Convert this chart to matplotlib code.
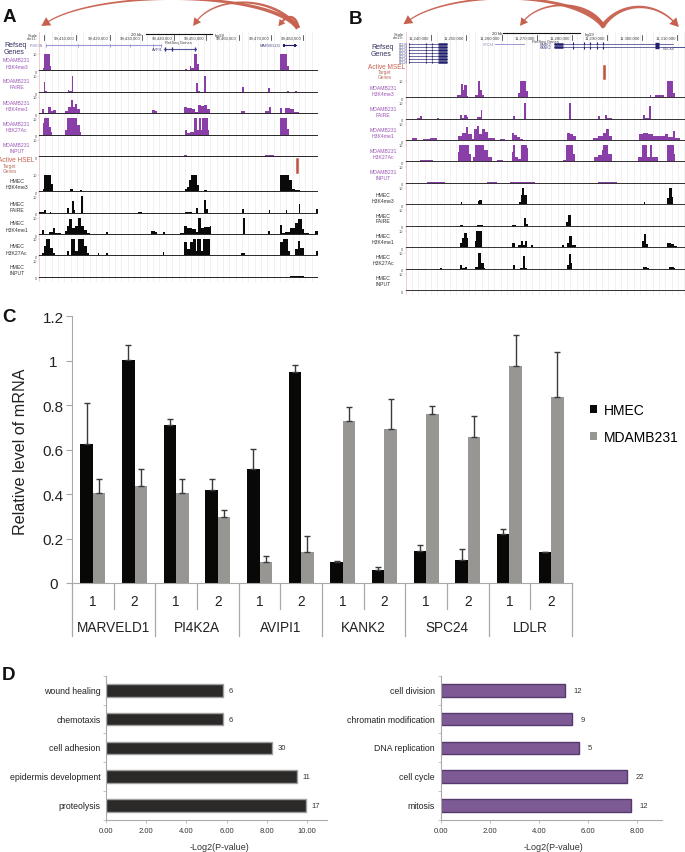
import numpy as np
import matplotlib
matplotlib.use("Agg")
from matplotlib import pyplot as plt
from matplotlib.patches import Polygon

plt.rcParams['font.family'] = ['Liberation Sans', 'DejaVu Sans']

W, H = 685, 853
PURPLE = "#8a3fa8"
BLACK = "#0a0a0a"
RED = "#c8604e"

# ---- panel C data
genes = ["MARVELD1", "PI4K2A", "AVIPI1", "KANK2", "SPC24", "LDLR"]
probes = ["1", "2"] * 6
hmec_mrna = [0.625, 1.005, 0.71, 0.42, 0.515, 0.95, 0.095, 0.06, 0.145, 0.105, 0.22, 0.14]
hmec_err = [0.185, 0.065, 0.03, 0.05, 0.09, 0.03, 0.005, 0.01, 0.025, 0.05, 0.025, 0.0]
mdamb_mrna = [0.405, 0.435, 0.405, 0.295, 0.095, 0.14, 0.73, 0.695, 0.76, 0.655, 0.975, 0.835]
mdamb_err = [0.065, 0.08, 0.065, 0.035, 0.025, 0.07, 0.06, 0.135, 0.035, 0.095, 0.14, 0.205]

# ---- panel D data
terms_left = ["proteolysis", "epidermis development", "cell adhesion", "chemotaxis", "wound healing"]
pval_left = [9.95, 9.5, 8.25, 5.8, 5.8]
count_left = [17, 11, 30, 6, 6]
terms_right = ["mitosis", "cell cycle", "DNA replication", "chromatin modification", "cell division"]
pval_right = [7.75, 7.6, 5.65, 5.35, 5.05]
count_right = [12, 22, 5, 9, 12]

# ---- panel A tracks: (position, height) steps, height scale 0-10
a_m_k4me3 = [(128,2),(132,10),(149,3),(154,0),(165,1),(170,0),(555,1.5),(560,1),(568,3),(573,2),(580,10),(591,4),(596,0),(690,.5),(695,0),(840,10),(860,3),(865,1),(878,0),(935,.4),(950,0)]
a_m_faire = [(131,6.5),(136,1),(140,0),(150,.4),(175,.5),(190,0),(203,2),(208,1),(216,10),(220,.5),(225,0),(300,.4),(340,.3),(400,.4),(440,0),(588,6),(593,1),(600,.5),(612,10),(616,.5),(620,0),(726,3.5),(730,0),(804,3),(808,0),(860,1),(865,0),(885,1),(889,0)]
a_m_me1 = [(127,3),(133,1),(145,4),(153,2),(160,2.5),(168,.5),(195,2),(205,4),(212,8),(218,4),(226,6),(232,3),(240,1),(245,0),(285,.7),(290,0),(455,2.5),(465,2),(472,1),(480,0),(540,1),(550,4),(560,3.5),(575,3),(585,1.5),(592,5.5),(602,5),(612,5.5),(620,3),(628,0),(722,2),(733,0),(795,2),(805,4),(812,1),(820,0),(838,3.5),(846,1),(855,3.5),(870,3),(880,1.5),(895,.7),(905,0),(930,.4),(950,0)]
a_m_k27 = [(129,7),(132,10),(147,5),(152,2),(157,0),(165,.5),(170,0),(195,3),(200,10),(232,6),(240,2),(243,0),(455,.6),(470,0),(490,.5),(495,0),(553,3),(561,1.5),(570,2),(580,10),(590,3),(595,10),(601,3),(606,10),(622,3),(627,0),(730,.3),(740,0),(840,10),(860,4),(866,0),(885,.4),(895,0)]
a_m_input = [(117,.3),(130,.8),(140,.3),(165,.7),(180,.3),(215,.8),(240,.4),(270,.6),(300,.3),(345,.5),(390,.7),(420,.3),(465,.8),(500,.4),(550,1),(560,.5),(590,.8),(640,.4),(700,.6),(760,.7),(795,1),(820,.4),(860,.7),(900,.8),(940,.4)]
a_h_k4me3 = [(128,2),(133,10),(153,5),(160,1),(168,.5),(172,0),(200,.7),(210,2),(220,.7),(232,1),(238,0),(240,1.5),(245,0),(440,.3),(470,0),(553,2),(560,3),(567,7),(573,10),(590,4),(597,1),(602,0),(612,1.5),(620,0),(725,1),(732,0),(840,10),(865,7),(875,2),(885,1.5),(900,1),(906,0)]
a_h_faire = [(118,1),(130,.8),(133,2),(137,0),(150,1),(154,0),(200,3),(206,.5),(215,7.5),(222,2),(226,0),(243,10),(248,.5),(252,0),(325,.5),(340,0),(415,.8),(425,0),(555,1),(575,0),(588,3.5),(592,0),(612,8),(618,2.5),(622,0),(655,.5),(660,0),(726,2.5),(731,0),(805,2),(809,0),(857,2),(860,0),(895,5.5),(899,0),(948,2.5),(954,0)]
a_h_me1 = [(126,3),(132,.5),(146,1.5),(158,4),(165,1),(178,1),(182,0),(195,2.5),(200,5),(208,9),(215,4),(225,5),(233,9.5),(243,5),(252,3),(262,1),(270,0),(319,2),(323,0),(452,2.5),(465,2),(472,0),(488,1.5),(495,0),(538,1),(550,5),(560,4),(575,3.5),(588,2),(592,10),(602,4),(612,4.5),(628,5),(632,0),(728,10),(734,0),(802,2.5),(810,0),(838,6),(844,1),(855,2),(870,4),(885,7),(892,9),(905,3.5),(910,1),(925,.8),(945,2.5),(954,0)]
a_h_k27 = [(125,2),(132,6),(137,10),(150,5),(158,2),(165,.5),(190,.5),(200,3),(206,.5),(212,10),(225,3),(233,10),(252,6),(260,2),(268,0),(293,2),(297,0),(318,2),(324,0),(345,.4),(365,.8),(370,0),(458,1),(468,0),(488,2.5),(493,0),(520,.6),(525,0),(545,.8),(550,8),(560,4),(570,8),(577,10),(588,3),(591,10),(601,3),(607,10),(628,0),(722,2),(735,0),(838,8),(848,10),(862,3),(868,0),(885,4),(892,9),(898,5),(910,0),(930,.4),(945,1),(948,3),(954,0)]
a_h_input = [(117,.3),(150,.5),(175,.3),(235,.6),(280,.3),(340,.5),(385,.6),(420,.3),(500,.4),(570,.5),(640,.4),(700,.3),(790,.4),(870,.7),(910,.4),(950,.3)]

# ---- panel B tracks
b_m_k4me3 = [(225,.5),(245,.6),(260,0),(290,1),(302,0),(352,2),(362,8),(369,5),(373,7.5),(380,1.5),(385,0),(405,2),(413,10),(421,5),(425,2),(433,0),(535,3),(540,10),(557,4),(563,0),(620,.5),(625,0),(740,.8),(750,0),(890,.5),(895,0),(930,2),(933,.5),(945,2),(972,0),(982,10),(1000,3),(1004,0),(1020,.4),(1035,0)]
b_m_faire = [(230,1),(240,2.5),(245,0),(292,1.2),(296,0),(320,.7),(325,0),(345,.7),(352,0),(360,3),(365,1),(372,3),(380,1.5),(385,0),(412,1.5),(422,6),(427,0),(518,2.5),(524,0),(552,10),(557,0),(640,.5),(650,0),(687,10),(692,0),(775,2.5),(779,0),(795,3),(800,1),(815,.6),(825,0),(908,3),(915,1),(928,8),(933,0),(980,.4),(990,0)]
b_m_me1 = [(197,1),(215,2),(230,1),(250,1.5),(270,2),(290,1),(345,1),(355,3),(365,5),(378,8),(385,4),(395,1.5),(403,7),(410,8.5),(417,4),(425,7),(435,5.5),(445,2),(465,.5),(480,1.5),(495,.7),(515,5),(522,3.5),(530,2.5),(540,1.5),(550,.5),(680,5),(690,4),(700,3),(708,1),(720,.5),(760,2),(775,3),(790,5),(797,7),(807,3),(815,1),(830,.4),(898,4),(910,5),(925,4),(940,3),(960,3),(975,4),(985,2.5),(1000,6),(1005,2),(1020,1),(1035,.5)]
b_m_k27 = [(197,.5),(215,1),(240,1.2),(262,1.5),(280,1),(300,.7),(345,1),(355,6),(358,10),(388,5),(392,1),(400,3),(404,10),(432,7),(445,3),(455,1),(470,1.5),(490,1),(505,.5),(515,6),(520,10),(525,3),(535,2),(542,10),(560,8),(564,0),(650,.8),(670,1.5),(678,10),(698,5),(705,1),(730,.5),(755,.5),(763,3),(775,4),(785,7),(790,10),(805,5),(815,1),(830,.4),(895,3),(905,10),(920,3),(930,10),(937,3),(955,1),(970,1),(982,10),(1002,5),(1006,1),(1035,.7)]
b_m_input = [(197,.3),(210,.8),(240,.5),(262,.9),(295,1.2),(315,.5),(350,.7),(370,.5),(410,.8),(440,1),(470,.6),(510,.9),(550,1),(585,.5),(640,.4),(680,.7),(740,.8),(775,.9),(830,.5),(880,.6),(920,.8),(960,.6),(1000,.8),(1030,.5)]
b_h_k4me3 = [(290,.8),(305,0),(362,2),(367,1),(375,1),(380,0),(405,.8),(413,2.5),(418,3),(425,.7),(430,0),(465,.3),(483,0),(518,.6),(525,0),(537,2),(543,6),(546,10),(553,6),(560,1),(565,0),(650,.3),(655,0),(772,.8),(775,0),(840,.4),(860,0),(912,2),(916,0),(930,.4),(945,0),(982,4),(987,10),(996,5),(1000,1),(1005,0)]
b_h_faire = [(232,.4),(245,0),(345,.3),(360,1),(368,0),(412,1),(428,0),(515,1),(527,0),(552,5),(557,1.5),(563,0),(640,.3),(645,0),(678,3),(685,7),(692,0),(825,.4),(865,0),(908,.6),(915,0),(935,.3),(940,0)]
b_h_me1 = [(225,.3),(238,1),(248,0),(258,1),(280,.8),(290,1),(305,0),(360,3),(365,6),(372,9),(380,6),(385,0),(404,4),(408,10),(427,0),(445,.5),(450,0),(505,.5),(516,3),(525,0),(533,2),(543,4),(548,2),(555,4),(561,0),(572,2),(580,0),(600,.5),(605,0),(665,2),(672,1),(680,3),(688,7),(695,2),(700,2),(708,0),(905,4),(912,8),(918,2.5),(925,0),(930,1),(935,0),(945,.6),(950,0),(965,.5),(982,3),(992,2.5),(1002,1.5),(1010,0)]
b_h_k27 = [(212,.4),(235,.6),(240,0),(252,.8),(262,0),(285,.8),(300,1),(305,0),(360,3),(365,1),(375,2),(381,0),(405,1.5),(415,10),(423,4),(431,1),(435,0),(518,3),(524,0),(540,1),(550,8),(555,1),(560,0),(645,.4),(665,.5),(672,0),(680,3),(686,9),(692,4),(697,0),(728,.7),(731,0),(910,1.5),(920,1),(928,.8),(940,0),(988,2),(1003,1),(1005,0)]
b_h_input = [(197,.2),(240,.3),(300,.4),(360,.3),(440,.8),(450,.3),(505,.7),(520,.9),(540,1),(560,.5),(650,.4),(720,.3),(810,.6),(870,.5),(912,.9),(925,.4),(1000,.3)]

a_tick_pos = [229, 329, 425, 522, 617, 715, 812, 909]
a_tick_lab = ["99,410,000", "99,420,000", "99,430,000", "99,440,000", "99,450,000", "99,460,000", "99,470,000", "99,480,000"]
b_tick_pos = [273, 377, 485, 590, 695, 800, 906, 1012]
b_tick_lab = ["11,240,000", "11,250,000", "11,260,000", "11,270,000", "11,280,000", "11,290,000", "11,300,000", "11,310,000"]


fig = plt.figure(figsize=(W / 100, H / 100), dpi=100)


def px_axes(left, top, right, bottom):
    return fig.add_axes([left / W, 1 - bottom / H, (right - left) / W, (bottom - top) / H])


# whole page in pixels, for the labels and the arrows
page = px_axes(0, 0, W, H)
page.set_xlim(0, W)
page.set_ylim(H, 0)
page.axis("off")
page.set_zorder(5)


def tapered_arrow(p0, c0, c1, p1, w0, w1, head):
    t = np.linspace(0, 1, 60)[:, None]
    p0, c0, c1, p1 = [np.array(p, float) for p in (p0, c0, c1, p1)]
    pts = (1-t)**3 * p0 + 3*(1-t)**2*t * c0 + 3*(1-t)*t**2 * c1 + t**3 * p1
    d = np.gradient(pts, axis=0)
    n = np.column_stack([-d[:, 1], d[:, 0]]) / np.linalg.norm(d, axis=1)[:, None]
    w = (w0 + (w1 - w0) * t**0.5) / 2
    page.add_patch(Polygon(np.vstack([pts + n*w, (pts - n*w)[::-1]]), fc=RED, ec="none", alpha=0.95))
    u = d[-1] / np.linalg.norm(d[-1])
    v = np.array([-u[1], u[0]])
    page.add_patch(Polygon([p1 + u*head*0.7, p1 - u*head*0.4 + v*head*0.6, p1 - u*head*0.4 - v*head*0.6], fc=RED, ec="none"))


tapered_arrow((298, 29), (268, -9), (95, -9), (46, 24), 5, 1.2, 8)
tapered_arrow((298, 29), (275, -4), (215, -4), (196, 23), 4, 1.2, 7)
tapered_arrow((298, 29), (296, 16), (288, 15), (281, 24), 4, 2, 6)
tapered_arrow((604, 28), (575, -9), (450, -9), (408, 22), 5, 1.2, 8)
tapered_arrow((604, 28), (590, 0), (540, 0), (523, 23), 4, 1.2, 7)
tapered_arrow((602, 28), (620, 2), (655, 2), (675, 24), 5, 1.5, 8)


def draw_panel(left, right, xmin, xmax, bottom, tick_pos, tick_lab):
    ax = px_axes(left, 33, right, bottom)
    ax.set_xlim(xmin, xmax)
    ax.set_ylim(bottom, 33)
    ax.axis("off")
    for x in np.arange(xmin, xmax, 19):
        ax.axvline(x, color="#ececec", lw=0.5)
    ax.axvline(xmin, color="#f3c9c9", lw=0.6)
    for x, s in zip(tick_pos, tick_lab):
        ax.plot([x, x], [36, 41], color="#222222", lw=0.5)
        ax.text(x - 5, 39, s, fontsize=3.1, ha="right", va="center", color="#444444")
    return ax


def draw_track(left, right, xmin, xmax, base, steps, color, base_color):
    ax = px_axes(left, base - 17.5, right, base)
    ax.patch.set_alpha(0)
    ax.set_xlim(xmin, xmax)
    ax.set_ylim(0, 10)
    pos = [xmin] + [s[0] for s in steps] + [xmax]
    val = [0] + [s[1] for s in steps] + [steps[-1][1]]
    ax.fill_between(pos, val, 0, step="post", color=color, lw=0)
    ax.axhline(0, color=base_color, lw=1.4)
    for side in ax.spines.values():
        side.set_visible(False)
    ax.set_xticks([])
    ax.set_yticks([0, 10])
    ax.set_yticklabels(["0", "10"], fontsize=2.8, color="#555555")
    ax.tick_params(axis="y", length=1, width=0.3, pad=0.6, color="#999999")


def two_lines(x, y1, y2, s1, s2, color, size=3.7):
    page.text(x, y1, s1, ha="center", va="center", fontsize=size, color=color)
    page.text(x, y2, s2, ha="center", va="center", fontsize=size, color=color)


# ---- panel A
a_ax = draw_panel(39, 318, 117, 953, 283, a_tick_pos, a_tick_lab)
a_ax.plot([131, 131], [36, 41], color="#222222", lw=0.5)
a_ax.plot([438, 634], [35, 35], color="#111111", lw=0.8)
a_ax.text(425, 35, "20 kb", fontsize=3.2, ha="right", va="center", color="#333333")
a_ax.text(645, 36, "hg19", fontsize=3.2, ha="left", va="center", color="#333333")
a_ax.text(535, 43, "RefSeq Genes", fontsize=3, ha="center", va="center", color="#444444")
a_ax.plot([137, 483], [46, 46], color="#9a9ad0", lw=0.8)
a_ax.plot([492, 588], [49.7, 49.7], color="#55559a", lw=0.8)
a_ax.plot([847, 887], [46, 46], color="#20206e", lw=0.8)
a_ax.vlines([137, 235, 330, 390, 458, 483], 44.5, 47.5, color="#9a9ad0", lw=0.7)
a_ax.vlines([495, 515, 583], 48, 51.5, color="#33338a", lw=1)
a_ax.vlines([850, 884], 44.5, 47.5, color="#20206e", lw=1.4)
a_ax.text(128, 46, "PI4K2A", fontsize=2.8, ha="right", va="center", color="#8888bb")
a_ax.text(488, 49.7, "AVPI1", fontsize=2.8, ha="right", va="center", color="#444488")
a_ax.text(840, 46, "MARVELD1", fontsize=2.8, ha="right", va="center", color="#444488")
a_ax.plot([891, 891], [160, 172.7], color="#c0503c", lw=1.8)

a_tracks = [(72.3, a_m_k4me3, PURPLE), (94, a_m_faire, PURPLE), (115.3, a_m_me1, PURPLE),
            (136.7, a_m_k27, PURPLE), (158, a_m_input, PURPLE), (193.3, a_h_k4me3, BLACK),
            (214.7, a_h_faire, BLACK), (236, a_h_me1, BLACK), (257.3, a_h_k27, BLACK), (278.7, a_h_input, BLACK)]
for base, steps, color in a_tracks:
    draw_track(39, 318, 117, 953, base, steps, color, "#2a2a2a")

a_lines = [(60.7, 67), (81.7, 87.7), (103, 109.3), (124, 130), (145, 151),
           (181.7, 187.7), (204, 210.3), (223.7, 230), (246.7, 253), (267.7, 273.7)]
marks = ["H3K4me3", "FAIRE", "H3K4me1", "H3K27Ac", "INPUT"]
for i, (y1, y2) in enumerate(a_lines):
    if i < 5:
        two_lines(16.7, y1, y2, "MDAMB231", marks[i], "#9b55b5")
    else:
        two_lines(16.7, y1, y2, "HMEC", marks[i - 5], "#333333")
page.text(4, 45, "Refseq", fontsize=5, color="#33335f", va="center")
page.text(4, 52, "Genes", fontsize=5, color="#33335f", va="center")
page.text(16.5, 160.7, "Active HSEL", fontsize=4.7, color=RED, ha="center", va="center")
two_lines(9.5, 166, 171, "Target", "Genes", "#b8705f", 3.4)
page.text(38, 36, "Scale", fontsize=3, ha="right", va="center", color="#444444")
page.text(38, 39, "chr11:", fontsize=2.8, ha="right", va="center", color="#444444")

# ---- panel B
b_ax = draw_panel(405.7, 685, 197, 1035, 296, b_tick_pos, b_tick_lab)
b_ax.plot([490, 720], [34, 34], color="#111111", lw=0.8)
b_ax.text(486, 34, "20 kb", fontsize=3.2, ha="right", va="center", color="#333333")
b_ax.text(733, 35, "hg19", fontsize=3.2, ha="left", va="center", color="#333333")
b_ax.text(617, 42, "RefSeq Genes", fontsize=3, ha="center", va="center", color="#444444")
for y in [44.7, 47.7, 50.7, 54, 57, 60, 63]:
    b_ax.plot([208, 320], [y, y], color="#33337f", lw=0.5)
    b_ax.vlines([208, 258, 275], y - 1.2, y + 1.2, color="#20206e", lw=0.8)
    b_ax.plot([295, 320], [y, y], color="#20206e", lw=1.8, solid_capstyle="butt")
    b_ax.text(190, y, "LDLR", fontsize=2.6, ha="center", va="center", color="#444488")
b_ax.plot([465, 553], [44.7, 44.7], color="#9a9ad0", lw=0.7)
b_ax.text(445, 44.7, "SPC24", fontsize=2.6, ha="center", va="center", color="#8888bb")
for y in [44.7, 48]:
    b_ax.plot([642, 1000], [y, y], color="#33337f", lw=0.5)
    b_ax.vlines([700, 733, 750, 770, 790], y - 1.5, y + 1.5, color="#20206e", lw=0.8)
    b_ax.plot([642, 668], [y, y], color="#20206e", lw=1.8, solid_capstyle="butt")
    b_ax.plot([945, 958], [y, y], color="#20206e", lw=2.4, solid_capstyle="butt")
    b_ax.text(617, y, "KANK2", fontsize=2.6, ha="center", va="center", color="#444488")
b_ax.plot([1000, 1035], [48, 48], color="#33337f", lw=0.6)
b_ax.text(985, 48.5, "DOCK6", fontsize=2.6, ha="center", va="center", color="#444488")
b_ax.plot([791, 791], [66.7, 79], color="#c0503c", lw=1.8)

b_tracks = [(99.3, b_m_k4me3, PURPLE), (121, b_m_faire, PURPLE), (142.3, b_m_me1, PURPLE),
            (163.3, b_m_k27, PURPLE), (185, b_m_input, PURPLE), (206.3, b_h_k4me3, BLACK),
            (228, b_h_faire, BLACK), (249.3, b_h_me1, BLACK), (271, b_h_k27, BLACK), (292.3, b_h_input, BLACK)]
for base, steps, color in b_tracks:
    draw_track(405.7, 685, 197, 1035, base, steps, color, "#333333")

b_lines = [(88.3, 94.7), (109, 115), (130, 136.7), (151, 157.3), (172.3, 178.3),
           (195, 201.3), (216, 221.7), (236, 242), (257, 263.3), (278.3, 284.3)]
for i, (y1, y2) in enumerate(b_lines):
    if i < 5:
        two_lines(383, y1, y2, "MDAMB231", marks[i], "#9b55b5")
    else:
        two_lines(383, y1, y2, "HMEC", marks[i - 5], "#333333")
page.text(371, 47, "Refseq", fontsize=5, color="#33335f", va="center")
page.text(371, 54, "Genes", fontsize=5, color="#33335f", va="center")
page.text(386.5, 67, "Active MSEL", fontsize=4.7, color=RED, ha="center", va="center")
two_lines(385, 72, 77, "Target", "Genes", "#b8705f", 3.4)
page.text(404, 34.5, "Scale", fontsize=3, ha="right", va="center", color="#444444")
page.text(404, 38, "chr19:", fontsize=2.8, ha="right", va="center", color="#444444")

# panel letters
for s, x, y in [("A", 3, 17), ("B", 349, 19), ("C", 2, 317), ("D", 2, 676)]:
    page.text(x, y, s, fontsize=13.5, fontweight="bold", va="center", color="#111111")

# ---- panel C
axc = px_axes(72, 317.3, 572, 584)
x = np.arange(12)
bw = 0.3
b1 = axc.bar(x - bw / 2, hmec_mrna, bw, color="#080806", label="HMEC")
b2 = axc.bar(x + bw / 2, mdamb_mrna, bw, color="#989693", label="MDAMB231")
axc.errorbar(x - bw / 2, hmec_mrna, yerr=[np.zeros(12), hmec_err], fmt="none", ecolor="#3a3a3a", elinewidth=1, capsize=2.4, capthick=1)
axc.errorbar(x + bw / 2, mdamb_mrna, yerr=[np.zeros(12), mdamb_err], fmt="none", ecolor="#3a3a3a", elinewidth=1, capsize=2.4, capthick=1)
axc.set_xlim(-0.5, 11.5)
axc.set_ylim(0, 1.2)
axc.set_yticks([0, 0.2, 0.4, 0.6, 0.8, 1, 1.2])
axc.set_yticklabels(["0", "0.2", "0.4", "0.6", "0.8", "1", "1.2"], fontsize=11, color="#222222", ha="center")
axc.tick_params(axis="y", length=4, width=0.8, color="#a8a8a8", pad=9.5)
axc.set_xticks([])
axc.spines["top"].set_visible(False)
axc.spines["right"].set_visible(False)
axc.spines["left"].set_color("#a8a8a8")
axc.spines["bottom"].set_color("#a8a8a8")
axc.set_ylabel("Relative level of mRNA", fontsize=11.6, color="#222222")
axc.yaxis.set_label_coords(-0.088, 0.497)
# x in data, y as a fraction of the axes height
trans = axc.get_xaxis_transform()
for i, s in enumerate(probes):
    axc.text(i, -0.066, s, transform=trans, fontsize=9.8, ha="center", va="center", color="#222222")
    if i % 2 == 1:
        axc.plot([i - 0.5, i - 0.5], [0, -0.0975], transform=trans, color="#a8a8a8", lw=0.9, clip_on=False)
for i, s in enumerate(genes):
    axc.text(2 * i + 0.5, -0.165, s, transform=trans, fontsize=9.8, ha="center", va="center", color="#222222")
    axc.plot([2 * i - 0.5, 2 * i - 0.5], [0, -0.199], transform=trans, color="#a8a8a8", lw=0.9, clip_on=False)
axc.plot([11.5, 11.5], [0, -0.199], transform=trans, color="#a8a8a8", lw=0.9, clip_on=False)
leg = axc.legend(handles=[b1, b2], loc="center left", bbox_to_anchor=(1.036, 0.597), frameon=False,
                 fontsize=10, handlelength=0.5, handleheight=0.5, handletextpad=0.5, labelspacing=0.95, borderpad=0, borderaxespad=0)


# ---- panel D
def draw_d(left, right, xmax, terms, vals, counts, fc, ec, xticks, count_pad):
    ax = px_axes(left, 677, right, 820.7)
    y = np.arange(5)
    ax.barh(y, vals, 0.44, color=fc, edgecolor=ec, linewidth=1)
    ax.set_xlim(0, xmax)
    ax.set_ylim(-0.5, 4.5)
    ax.set_yticks(np.arange(-0.5, 5, 1))
    ax.set_yticklabels([])
    ax.tick_params(axis="y", length=2, width=0.5, color="#aaaaaa")
    for yy, s in zip(y, terms):
        ax.text(-xmax * 0.025, yy, s, fontsize=6.3, ha="right", va="center", color="#222222")
    for yy, v, c in zip(y, vals, counts):
        ax.text(v + count_pad, yy, str(c), fontsize=5.5, ha="left", va="center", color="#333333")
    ax.set_xticks(xticks)
    ax.set_xticklabels(["%.2f" % t for t in xticks], fontsize=5.5, color="#333333")
    ax.tick_params(axis="x", length=2, width=0.5, color="#aaaaaa", pad=3)
    ax.spines["top"].set_visible(False)
    ax.spines["right"].set_visible(False)
    ax.spines["left"].set_color("#aaaaaa")
    ax.spines["bottom"].set_color("#aaaaaa")
    ax.set_xlabel("-Log2(P-value)", fontsize=6.5, color="#333333")
    ax.xaxis.set_label_coords(0.513, -0.152)


draw_d(106, 327, 11, terms_left, pval_left, count_left, "#2c2a28", "#a0a0a0", [0, 2, 4, 6, 8, 10], 0.29)
draw_d(440.5, 661.6, 9, terms_right, pval_right, count_right, "#7d5a94", "#55386c", [0, 2, 4, 6, 8], 0.36)

fig.savefig("out.png", dpi=100)
